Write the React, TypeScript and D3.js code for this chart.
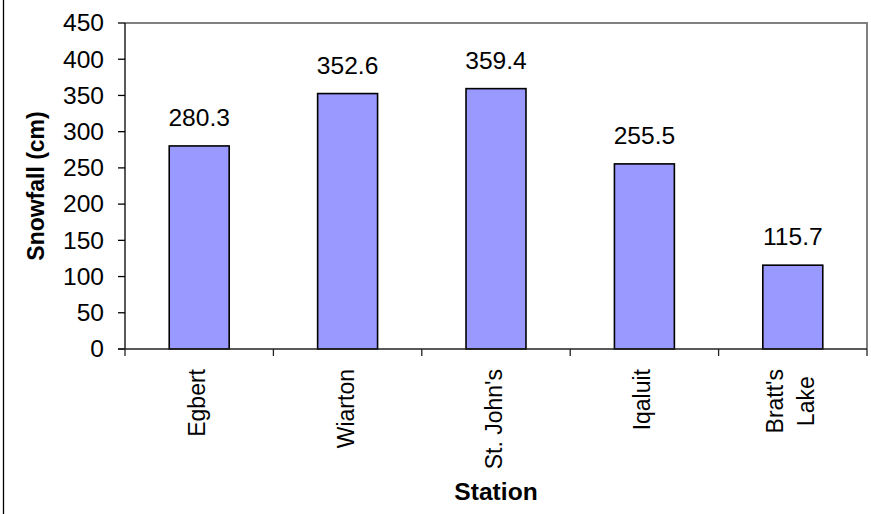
import React, { useEffect, useRef } from "react";
import * as d3 from "d3";

// Annual snowfall by station
const stations: string[][] = [["Egbert"], ["Wiarton"], ["St. John's"], ["Iqaluit"], ["Bratt's", "Lake"]];
const snowfall: number[] = [280.3, 352.6, 359.4, 255.5, 115.7];
const yTicks: number[] = [0, 50, 100, 150, 200, 250, 300, 350, 400, 450];

const W = 871;
const H = 514;
const FONT = "Arial, 'Liberation Sans', Helvetica, sans-serif";
// horizontal text is rendered slightly wide
const SX = 1.07;

export default function App() {
  const ref = useRef<SVGSVGElement | null>(null);

  useEffect(() => {
    const svg = d3.select(ref.current);
    svg.selectAll("*").remove();

    const left = 125, right = 867, top = 23, bottom = 349;
    const keys = stations.map((s) => s.join(" "));

    const x = d3.scaleBand<string>().domain(keys).range([left, right]).paddingInner(0.596).paddingOuter(0.298);
    const y = d3.scaleLinear().domain([0, 450]).range([bottom, top]);
    const step = x.step();

    const hText = (px: number, py: number, str: string, anchor: string, bold = false, dy = "0") =>
      svg.append("text")
        .attr("transform", `translate(${px},${py}) scale(${SX},1)`)
        .attr("dy", dy)
        .attr("text-anchor", anchor)
        .attr("font-family", FONT).attr("font-size", 23)
        .attr("font-weight", bold ? "bold" : "normal")
        .attr("fill", "#000")
        .text(str);

    // chart area edge
    svg.append("line").attr("x1", 3.5).attr("x2", 3.5).attr("y1", 0).attr("y2", H)
      .attr("stroke", "#000").attr("stroke-width", 1.3);

    // plot area frame (top / right)
    svg.append("path")
      .attr("d", `M${left},${top}H${right}V${bottom}`)
      .attr("fill", "none").attr("stroke", "#808080").attr("stroke-width", 2);

    // bars
    svg.append("g").selectAll("rect").data(snowfall).join("rect")
      .attr("x", (_, i) => x(keys[i])!)
      .attr("y", (d) => y(d))
      .attr("width", x.bandwidth())
      .attr("height", (d) => y(0) - y(d))
      .attr("fill", "#9999FF")
      .attr("stroke", "#000")
      .attr("stroke-width", 1.6);

    // value labels
    snowfall.forEach((d, i) => {
      hText(x(keys[i])! + x.bandwidth() / 2, y(d) - 20, d.toFixed(1), "middle");
    });

    // y axis
    svg.append("line").attr("x1", left).attr("x2", left).attr("y1", top).attr("y2", bottom)
      .attr("stroke", "#000").attr("stroke-width", 1.3);
    yTicks.forEach((t) => {
      svg.append("line").attr("x1", left - 7).attr("x2", left).attr("y1", y(t)).attr("y2", y(t))
        .attr("stroke", "#000").attr("stroke-width", 1.3);
      hText(104, y(t), String(t), "end", false, "0.36em");
    });

    // x axis
    svg.append("line").attr("x1", left - 7).attr("x2", right).attr("y1", bottom).attr("y2", bottom)
      .attr("stroke", "#222").attr("stroke-width", 1.6);
    for (let i = 0; i <= keys.length; i++) {
      const tx = left + i * step;
      svg.append("line").attr("x1", tx).attr("x2", tx).attr("y1", bottom).attr("y2", bottom + 7)
        .attr("stroke", "#222").attr("stroke-width", 1.3);
    }

    // rotated category labels
    const labelTop = 369;
    const pitch = 31;
    stations.forEach((lines, i) => {
      const cx = x(keys[i])! + x.bandwidth() / 2 + 6;
      const g = svg.append("g");
      const texts = lines.map((ln) =>
        g.append("text").attr("font-family", FONT).attr("font-size", 23).attr("fill", "#000").text(ln)
      );
      const lens = texts.map((t) => (t.node() as SVGTextElement).getComputedTextLength());
      const maxLen = d3.max(lens) ?? 0;
      const midY = labelTop + maxLen / 2;
      texts.forEach((t, j) => {
        const bx = cx + (j - (lines.length - 1) / 2) * pitch;
        t.attr("text-anchor", "middle")
          .attr("transform", `translate(${bx},${midY}) rotate(-90) scale(1,${SX})`);
      });
    });

    // axis titles
    svg.append("text")
      .attr("transform", `translate(44,${(top + bottom) / 2}) rotate(-90) scale(1,${SX})`)
      .attr("text-anchor", "middle").attr("font-family", FONT).attr("font-size", 23)
      .attr("font-weight", "bold").attr("fill", "#000")
      .text("Snowfall (cm)");
    hText((left + right) / 2, 500, "Station", "middle", true);
  }, []);

  return (
    <svg
      ref={ref}
      width={W}
      height={H}
      style={{ position: "absolute", left: 0, top: 0, background: "#fff" }}
    />
  );
}
